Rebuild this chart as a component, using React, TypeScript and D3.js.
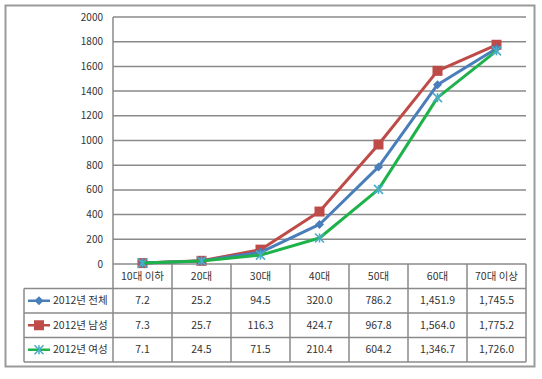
import React from "react";
import * as d3 from "d3";

const categories = ["10대 이하", "20대", "30대", "40대", "50대", "60대", "70대 이상"];
const seriesNames = ["2012년 전체", "2012년 남성", "2012년 여성"];
const totalValues = [7.2, 25.2, 94.5, 320.0, 786.2, 1451.9, 1745.5];
const maleValues = [7.3, 25.7, 116.3, 424.7, 967.8, 1564.0, 1775.2];
const femaleValues = [7.1, 24.5, 71.5, 210.4, 604.2, 1346.7, 1726.0];
const yTicks = [0, 200, 400, 600, 800, 1000, 1200, 1400, 1600, 1800, 2000];

const seriesValues = [totalValues, maleValues, femaleValues];
const lineColors = ["#4A7EBB", "#BE4B48", "#1EB24A"];
const font = "'Noto Sans CJK KR', 'Noto Sans', sans-serif";

const fmt = (v: number) => d3.format(",.1f")(v);

function Marker({ kind, x, y }: { kind: number; x: number; y: number }) {
  if (kind === 0) {
    const s = 4.5;
    return (
      <path
        d={`M${x},${y - s}L${x + s},${y}L${x},${y + s}L${x - s},${y}Z`}
        fill="#4A7EBB"
      />
    );
  }
  if (kind === 1) {
    return <rect x={x - 5} y={y - 5} width={10} height={10} fill="#BE4B48" />;
  }
  const s = 4.5;
  return (
    <g stroke="#4BACC6" strokeWidth={1.6}>
      <line x1={x - s} y1={y - s} x2={x + s} y2={y + s} />
      <line x1={x - s} y1={y + s} x2={x + s} y2={y - s} />
      <line x1={x} y1={y - s} x2={x} y2={y + s} />
    </g>
  );
}

export default function App() {
  const W = 542;
  const H = 379;
  const left = 113;
  const right = 526;
  const top = 17;
  const bottom = 264;
  const tableLeft = 24;
  const rowH = 24.5;

  const x = d3
    .scaleBand<string>()
    .domain(categories)
    .range([left, right]);
  const y = d3.scaleLinear().domain([0, 2000]).range([bottom, top]);
  const cx = (c: string) => (x(c) as number) + x.bandwidth() / 2;

  const line = d3
    .line<number>()
    .x((_, i) => cx(categories[i]))
    .y((d) => y(d));

  const gridColor = "#8a8a8a";
  const tableColor = "#8a8a8a";

  const rowY = (i: number) => bottom + rowH * i;

  return (
    <svg
      width={W}
      height={H}
      style={{ position: "absolute", left: 0, top: 0, background: "#fff" }}
      fontFamily={font}
    >
      <rect x={0} y={0} width={W} height={H} fill="#fff" />
      <rect
        x={5.5}
        y={5.5}
        width={529}
        height={361}
        fill="none"
        stroke="#9a9a9a"
        strokeWidth={2}
      />
      {/* grid lines */}
      {yTicks.map((t) => (
        <g key={t}>
          {t > 0 && (
            <line
              x1={left}
              x2={right}
              y1={y(t)}
              y2={y(t)}
              stroke={gridColor}
              strokeWidth={1.5}
            />
          )}
          <text
            x={103}
            y={y(t)}
            dy="0.35em"
            textAnchor="end"
            fontSize={10}
            fill="#333"
          >
            {t}
          </text>
        </g>
      ))}
      {/* plot left axis */}
      <line x1={left} x2={left} y1={top} y2={bottom} stroke={gridColor} strokeWidth={1.5} />
      {/* table */}
      {[0, 1, 2, 3, 4].map((i) => (
        <line
          key={"h" + i}
          x1={i === 0 ? left : tableLeft}
          x2={right}
          y1={rowY(i)}
          y2={rowY(i)}
          stroke={tableColor}
          strokeWidth={1.5}
        />
      ))}
      <line x1={tableLeft} x2={tableLeft} y1={rowY(1)} y2={rowY(4)} stroke={tableColor} strokeWidth={1.5} />
      {categories.map((c) => (
        <line
          key={"v" + c}
          x1={x(c) as number}
          x2={x(c) as number}
          y1={rowY(0)}
          y2={rowY(4)}
          stroke={tableColor}
          strokeWidth={1.5}
        />
      ))}
      <line x1={right} x2={right} y1={rowY(0)} y2={rowY(4)} stroke={tableColor} strokeWidth={1.5} />
      {categories.map((c) => (
        <text
          key={"c" + c}
          x={cx(c)}
          y={rowY(0) + rowH / 2}
          dy="0.35em"
          textAnchor="middle"
          fontSize={10.5}
          fill="#333"
        >
          {c}
        </text>
      ))}
      {seriesValues.map((vals, si) => (
        <g key={"row" + si}>
          <line
            x1={28}
            x2={50}
            y1={rowY(si + 1) + rowH / 2}
            y2={rowY(si + 1) + rowH / 2}
            stroke={lineColors[si]}
            strokeWidth={2.5}
          />
          <Marker kind={si} x={39} y={rowY(si + 1) + rowH / 2} />
          <text
            x={53}
            y={rowY(si + 1) + rowH / 2}
            dy="0.35em"
            fontSize={10.5}
            fill="#333"
          >
            {seriesNames[si]}
          </text>
          {vals.map((v, i) => (
            <text
              key={i}
              x={cx(categories[i])}
              y={rowY(si + 1) + rowH / 2}
              dy="0.35em"
              textAnchor="middle"
              fontSize={10.5}
              fill="#333"
            >
              {fmt(v)}
            </text>
          ))}
        </g>
      ))}
      {/* lines */}
      {[1, 0, 2].map((si) => (
        <g key={"s" + si}>
          <path
            d={line(seriesValues[si]) as string}
            fill="none"
            stroke={lineColors[si]}
            strokeWidth={3}
            strokeLinejoin="round"
          />
          {seriesValues[si].map((v, i) => (
            <Marker key={i} kind={si} x={cx(categories[i])} y={y(v)} />
          ))}
        </g>
      ))}
    </svg>
  );
}
